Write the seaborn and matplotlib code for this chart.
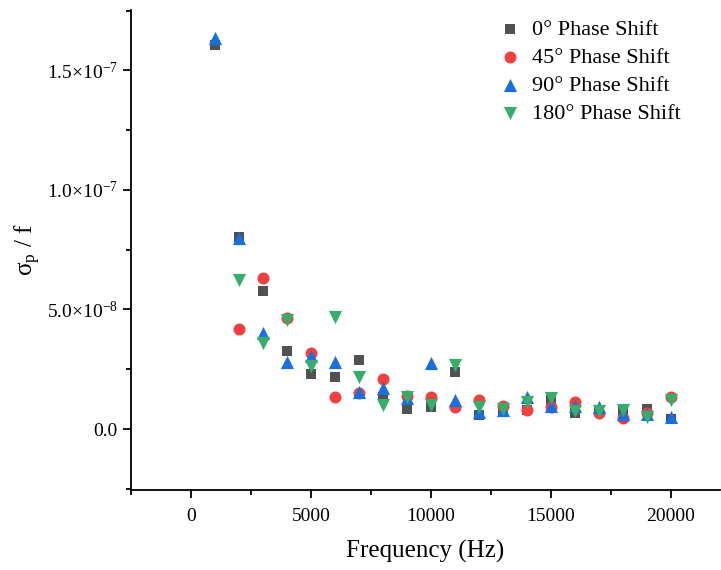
import numpy as np
import pandas as pd
import matplotlib
matplotlib.use("Agg")
import matplotlib.pyplot as plt
import seaborn as sns
from matplotlib.ticker import FuncFormatter, MultipleLocator

# frequencies (Hz)
freq = [1000, 2000, 3000, 4000, 5000, 6000, 7000, 8000, 9000, 10000,
        11000, 12000, 13000, 14000, 15000, 16000, 17000, 18000, 19000, 20000]

# sigma_p / f in units of 1e-8 (NaN = no point)
shift_0 = [16.05, 8.03, 5.77, 3.26, 2.30, 2.18, 2.89, 1.34, 0.84, 0.92,
           2.38, 0.59, 0.79, 0.79, 1.21, 0.67, 0.75, 0.75, 0.84, 0.42]
shift_45 = [np.nan, 4.18, 6.32, 4.64, 3.18, 1.34, 1.51, 2.09, 1.38, 1.34,
            0.92, 1.21, 0.96, 0.79, 0.92, 1.13, 0.67, 0.46, 0.67, 1.34]
shift_90 = [16.36, 7.99, 4.02, 2.80, 3.05, 2.80, 1.55, 1.72, 1.30, 2.76,
            1.21, 0.71, 0.79, 1.34, 0.96, 0.96, 0.92, 0.63, 0.63, 0.50]
shift_180 = [np.nan, 6.23, 3.60, 4.56, 2.64, 4.69, 2.18, 1.00, 1.34, 1.00,
             2.68, 0.92, 0.84, 1.13, 1.30, 0.75, 0.75, 0.79, 0.50, 1.21]

labels = ["0° Phase Shift", "45° Phase Shift", "90° Phase Shift", "180° Phase Shift"]
colors = ["#515151", "#F14040", "#1A6FDF", "#37AD6B"]
markers = ["s", "o", "^", "v"]
sizes = [62, 75, 90, 90]

sns.set_style("ticks", {"axes.edgecolor": "black", "text.color": "black",
                        "xtick.color": "black", "ytick.color": "black",
                        "axes.labelcolor": "black"})
plt.rcParams["font.family"] = ["Liberation Serif", "DejaVu Serif"]
plt.rcParams["mathtext.fontset"] = "custom"
plt.rcParams["mathtext.rm"] = "Liberation Serif"
plt.rcParams["mathtext.it"] = "Liberation Serif:italic"

fig = plt.figure(figsize=(7.21, 5.70), dpi=100)
ax = fig.add_axes([0.1817, 0.1404, 0.8169, 0.8421])

for lab, vals, c, m, s in zip(labels, [shift_0, shift_45, shift_90, shift_180],
                              colors, markers, sizes):
    d = pd.DataFrame({"freq": freq, "val": np.array(vals) * 1e-8}).dropna()
    sns.scatterplot(data=d, x="freq", y="val", color=c, marker=m, s=s,
                    linewidth=0, label=lab, ax=ax)

ax.set_xlim(-2500, 22050)
ax.set_ylim(-2.55e-8, 1.753e-7)

ax.xaxis.set_major_locator(MultipleLocator(5000))
ax.xaxis.set_minor_locator(MultipleLocator(2500))
ax.yaxis.set_major_locator(MultipleLocator(5e-8))
ax.yaxis.set_minor_locator(MultipleLocator(2.5e-8))


def yfmt(v, pos):
    if abs(v) < 1e-12:
        return "0.0"
    exp = int(np.floor(np.log10(abs(v))))
    mant = v / 10 ** exp
    return r"$%.1f{\times}10^{%d}$" % (mant, exp)


ax.yaxis.set_major_formatter(FuncFormatter(yfmt))

for side in ["top", "right"]:
    ax.spines[side].set_visible(False)
for side in ["left", "bottom"]:
    ax.spines[side].set_linewidth(1.3)
    ax.spines[side].set_color("black")

ax.tick_params(which="major", direction="out", length=6, width=1.3, labelsize=14,
               colors="black")
ax.tick_params(which="minor", direction="out", length=3.5, width=1.3, colors="black")
ax.tick_params(axis="x", pad=7)

ax.set_xlabel("Frequency (Hz)", fontsize=18, labelpad=11)
ax.set_ylabel(r"σ$_\mathrm{p}$ / f", fontsize=18, labelpad=3)

ax.legend(loc="upper left", frameon=False, fontsize=16, title=None,
          handlelength=1.0, handletextpad=0.5, labelspacing=0.34,
          borderpad=0, borderaxespad=0, bbox_to_anchor=(0.625, 0.981))

fig.savefig("out.png", dpi=100)
